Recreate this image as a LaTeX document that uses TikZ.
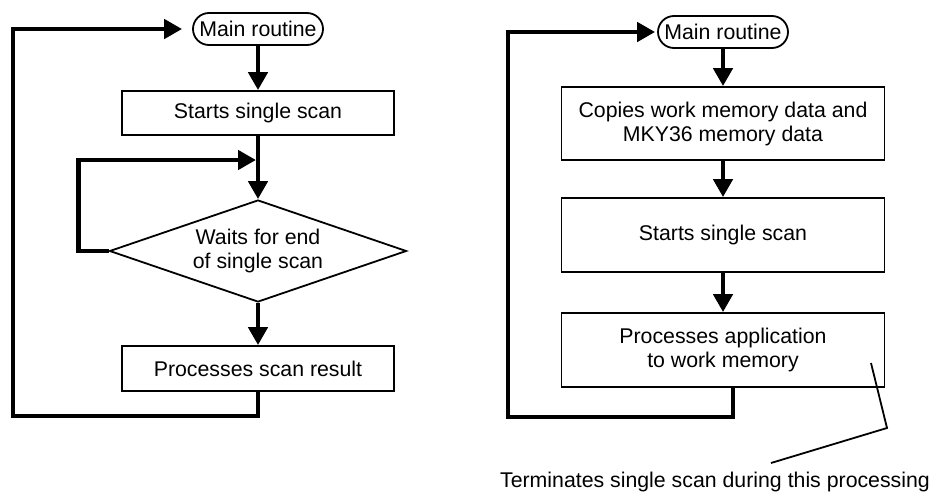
\documentclass[tikz,border=0pt]{standalone}
\usepackage{fontspec}
\setmainfont{Liberation Sans}
\usetikzlibrary{arrows.meta,shapes.geometric}

\begin{document}
\begin{tikzpicture}[x=1pt, y=-1pt, font=\fontsize{21.3}{24}\selectfont,
  term/.style={draw,line width=1.8pt,rounded corners=16pt,minimum width=130pt,minimum height=32pt,inner sep=0pt},
  box/.style={draw,line width=1.8pt,minimum width=272pt,minimum height=44pt,align=center,inner sep=0pt},
  dec/.style={draw,line width=1.8pt,diamond,aspect=2.9,minimum width=297pt,minimum height=102pt,align=center,inner sep=0pt},
  flow/.style={line width=4.5pt},
  >={Triangle[length=18pt,width=19pt]}]
\useasboundingbox (0,0) rectangle (932,493);
\node[term] (mainL) at (258,29) {Main routine};
\node[box] (scanL) at (258,113) {Starts single scan};
\node[dec] (waitL) at (258,251) {Waits for end\\of single scan};
\node[box,minimum height=45pt] (resL) at (258,368.5) {Processes scan result};
\coordinate (joinL) at (256,160);
\coordinate (backL) at (13,416);
\draw[flow,->] (mainL) -- (scanL);
\draw[flow,->] (scanL) -- (waitL);
\draw[flow,->] (waitL.west) -- ++(-30,0) |- (joinL);
\draw[flow,->] (waitL) -- (resL);
\draw[flow,->] (resL.south) |- (backL) |- ([xshift=-10pt]mainL.west);
\node[term] (mainR) at (723,32) {Main routine};
\node[box,minimum width=323pt,minimum height=73pt] (copyR) at (723,123.5) {Copies work memory data and\\MKY36 memory data};
\node[box,minimum width=323pt,minimum height=74pt] (startR) at (723,235) {Starts single scan};
\node[box,minimum width=323pt,minimum height=74pt] (procR) at (723,350) {Processes application\\to work memory};
\coordinate (backR) at (508,417);
\draw[flow,->] (mainR) -- (copyR);
\draw[flow,->] (copyR) -- (startR);
\draw[flow,->] (startR) -- (procR);
\draw[flow,->] ([xshift=10pt]procR.south) |- (backR) |- ([xshift=-2pt]mainR.west);
\node (note) at (715,482) {Terminates single scan during this processing};
\coordinate (noteA) at (871,363);
\coordinate (noteB) at (887,428);
\coordinate (noteC) at (771,463);
\draw[line width=1.8pt] (noteA) -- (noteB) -- (noteC);
\end{tikzpicture}
\end{document}
